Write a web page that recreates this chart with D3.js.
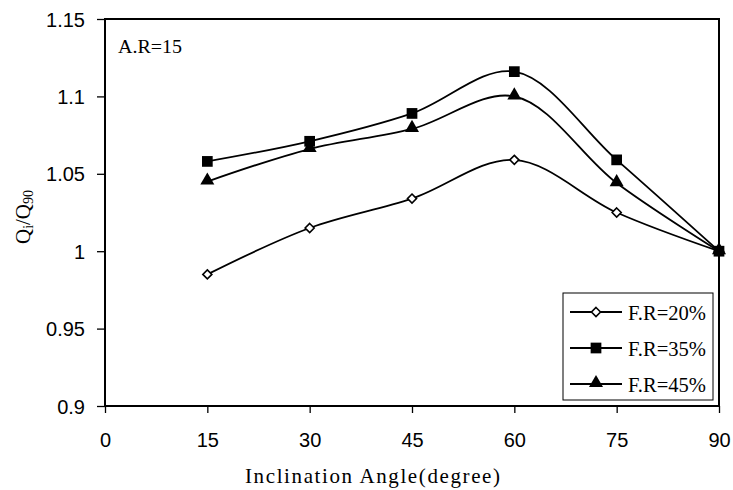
<!DOCTYPE html>
<html>
<head>
<meta charset="utf-8">
<script src="https://cdn.jsdelivr.net/npm/d3@7"></script>
<style>
  body { margin: 0; background: #fff; }
  svg { display: block; }
</style>
</head>
<body>
<svg id="chart" width="733" height="490"></svg>
<script>
// values
let angles = [15, 30, 45, 60, 75, 90]
let fr20 = [0.985, 1.015, 1.034, 1.059, 1.025, 1.0]
let fr35 = [1.058, 1.071, 1.089, 1.116, 1.059, 1.0]
let fr45 = [1.045, 1.066, 1.079, 1.100, 1.044, 1.0]
let xTicks = [0, 15, 30, 45, 60, 75, 90]
let yTicks = [0.9, 0.95, 1, 1.05, 1.1, 1.15]

let series = [
    {name: "F.R=20%", values: fr20, marker: "diamond"},
    {name: "F.R=35%", values: fr35, marker: "square"},
    {name: "F.R=45%", values: fr45, marker: "triangle"}
]

const svg = d3.select("#chart")
const plotLeft = 105, plotRight = 719, plotTop = 19, plotBottom = 406
const serif = "'Liberation Serif', 'Times New Roman', serif"

const x = d3.scaleLinear().domain([0, 90]).range([plotLeft, plotRight])
const y = d3.scaleLinear().domain([0.9, 1.15]).range([plotBottom, plotTop])

// frame
svg.append("rect")
    .attr("x", plotLeft).attr("y", plotTop)
    .attr("width", plotRight - plotLeft).attr("height", plotBottom - plotTop)
    .attr("fill", "none").attr("stroke", "#000").attr("stroke-width", 2)

// axes
const xAxis = svg.append("g")
    .attr("transform", `translate(0,${plotBottom})`)
    .call(d3.axisBottom(x).tickValues(xTicks).tickSize(7).tickPadding(20).tickFormat(d3.format("d")))
const yAxis = svg.append("g")
    .attr("transform", `translate(${plotLeft},0)`)
    .call(d3.axisLeft(y).tickValues(yTicks).tickSize(8).tickPadding(12).tickFormat(d => String(d)))

;[xAxis, yAxis].forEach(a => {
    a.select(".domain").remove()
    a.selectAll(".tick line").attr("stroke", "#000").attr("stroke-width", 1.3)
    a.selectAll(".tick text")
        .attr("fill", "#000")
        .style("font-family", "'Liberation Sans', Arial, sans-serif")
        .style("font-size", "20px")
})
yAxis.selectAll(".tick text").attr("dy", "0.35em")

// marker drawing
function drawMarker(g, type, cx, cy) {
    if (type == "diamond") {
        g.append("path")
            .attr("d", d3.symbol().type(d3.symbolDiamond2).size(52)())
            .attr("transform", `translate(${cx},${cy})`)
            .attr("fill", "#fff").attr("stroke", "#000").attr("stroke-width", 1.6)
    } else if (type == "square") {
        g.append("path")
            .attr("d", d3.symbol().type(d3.symbolSquare).size(115)())
            .attr("transform", `translate(${cx},${cy})`)
            .attr("fill", "#000")
    } else {
        g.append("path")
            .attr("d", d3.symbol().type(d3.symbolTriangle).size(85)())
            .attr("transform", `translate(${cx},${cy - 1})`)
            .attr("fill", "#000")
    }
}

const line = d3.line()
    .x((d, i) => x(angles[i]))
    .y(d => y(d))
    .curve(d3.curveCatmullRom.alpha(0.5))

series.forEach(s => {
    svg.append("path")
        .datum(s.values)
        .attr("d", line)
        .attr("fill", "none")
        .attr("stroke", "#000")
        .attr("stroke-width", 1.8)
    let g = svg.append("g")
    s.values.forEach((v, i) => drawMarker(g, s.marker, x(angles[i]), y(v)))
})

// annotation
svg.append("text")
    .attr("x", 118).attr("y", 53)
    .attr("textLength", 64).attr("lengthAdjust", "spacingAndGlyphs")
    .style("font-family", serif)
    .style("font-size", "19px")
    .text("A.R=15")

// legend
const lg = svg.append("g")
lg.append("rect")
    .attr("x", 563).attr("y", 293).attr("width", 150).attr("height", 107)
    .attr("fill", "#fff").attr("stroke", "#000").attr("stroke-width", 1)
series.forEach((s, i) => {
    let ly = 312 + i * 36
    lg.append("line")
        .attr("x1", 570).attr("x2", 622).attr("y1", ly).attr("y2", ly)
        .attr("stroke", "#000").attr("stroke-width", 1.8)
    drawMarker(lg, s.marker, 596, ly)
    lg.append("text")
        .attr("x", 628).attr("y", ly + 8)
        .attr("textLength", 78).attr("lengthAdjust", "spacingAndGlyphs")
        .style("font-family", serif)
        .style("font-size", "20px")
        .text(s.name)
})

// axis titles
svg.append("text")
    .attr("x", 245).attr("y", 483)
    .attr("textLength", 255).attr("lengthAdjust", "spacing")
    .style("font-family", serif)
    .style("font-size", "21px")
    .text("Inclination Angle(degree)")

const yt = svg.append("text")
    .attr("transform", "translate(30,217) rotate(-90)")
    .attr("text-anchor", "middle")
    .style("font-family", serif)
    .style("font-size", "21px")
yt.append("tspan").text("Q")
yt.append("tspan").attr("dy", 3).style("font-size", "14px").text("i")
yt.append("tspan").attr("dy", -3).text("/Q")
yt.append("tspan").attr("dy", 3).style("font-size", "14px").text("90")
</script>
</body>
</html>
